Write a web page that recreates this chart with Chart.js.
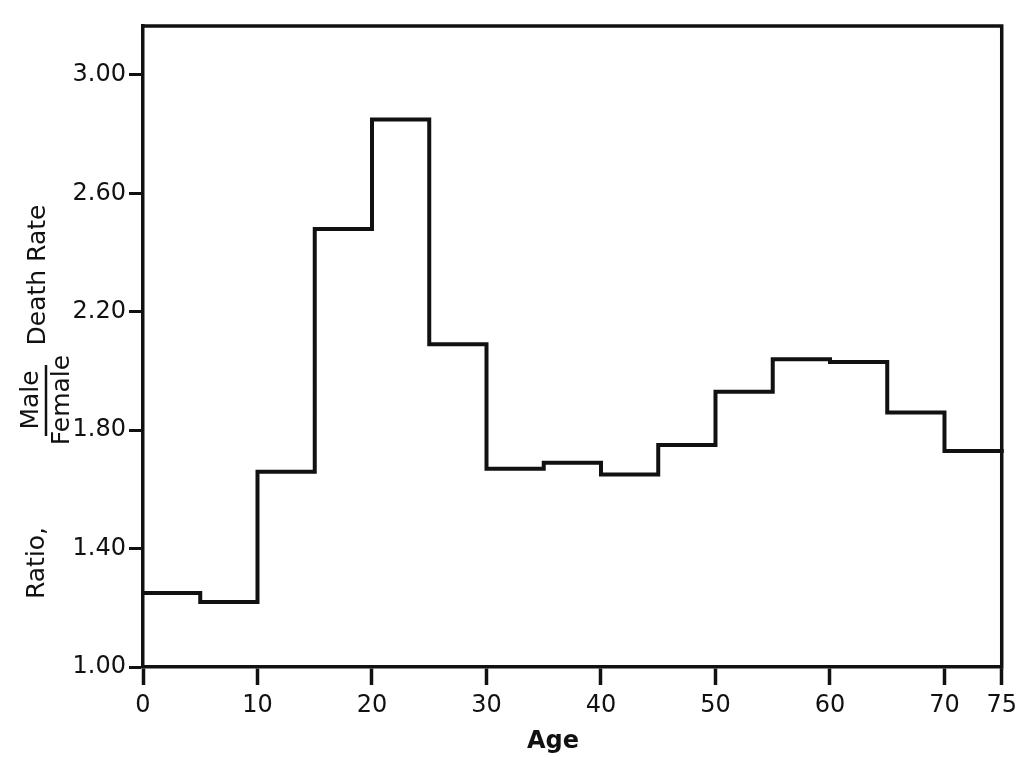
<!DOCTYPE html>
<html>
<head>
<meta charset="utf-8">
<title>Male/Female Death Rate Ratio by Age</title>
<script src="https://cdn.jsdelivr.net/npm/chart.js@4.4.1/dist/chart.umd.min.js"></script>
<style>
  html, body { margin: 0; padding: 0; background: #ffffff; }
  #wrap { width: 1023px; height: 762px; position: relative; }
  canvas { display: block; }
</style>
</head>
<body>
<div id="wrap"><canvas id="c" width="1023" height="762"></canvas></div>
<script>
// Age group boundaries (5-year groups from 0 to 75)
const ageEdges = [0, 5, 10, 15, 20, 25, 30, 35, 40, 45, 50, 55, 60, 65, 70, 75];
// Male / female death-rate ratio for each age group
const ratios = [1.25, 1.22, 1.66, 2.48, 2.85, 2.09, 1.67, 1.69, 1.65, 1.75, 1.93, 2.04, 2.03, 1.86, 1.73];
// Axis tick values
const xTicks = [0, 10, 20, 30, 40, 50, 60, 70, 75];
const yTicks = [1.00, 1.40, 1.80, 2.20, 2.60, 3.00];

// Each age group becomes a flat segment; consecutive segments join vertically.
const stepPoints = [];
ratios.forEach((r, i) => {
  stepPoints.push({ x: ageEdges[i], y: r });
  stepPoints.push({ x: ageEdges[i + 1], y: r });
});

const INK = '#111111';
const FONT = "'DejaVu Sans', sans-serif";

// Top and right edges of the plot frame
const framePlugin = {
  id: 'frame',
  afterDatasetsDraw(chart) {
    const { ctx, chartArea: a } = chart;
    ctx.save();
    ctx.strokeStyle = INK;
    ctx.lineWidth = 3.5;
    ctx.lineCap = 'square';
    ctx.beginPath();
    ctx.moveTo(a.left, a.top);
    ctx.lineTo(a.right, a.top);
    ctx.lineTo(a.right, a.bottom);
    ctx.stroke();
    ctx.restore();
  }
};

// Axis titles: "Age" below, and the rotated "Ratio, Male/Female Death Rate"
const titlePlugin = {
  id: 'titles',
  afterDraw(chart) {
    const { ctx } = chart;
    ctx.save();
    ctx.fillStyle = INK;
    ctx.textAlign = 'center';
    ctx.textBaseline = 'middle';

    ctx.font = "bold 24px " + FONT;
    ctx.fillText('Age', 553, 742);

    const rot = (text, x, y) => {
      ctx.save();
      ctx.translate(x, y);
      ctx.rotate(-Math.PI / 2);
      ctx.fillText(text, 0, 0);
      ctx.restore();
    };
    ctx.font = "25px " + FONT;
    rot('Ratio,', 37, 563);
    rot('Death Rate', 38, 275);
    rot('Male', 31, 400);
    rot('Female', 62, 400);
    // fraction bar
    ctx.strokeStyle = INK;
    ctx.lineWidth = 2.5;
    ctx.beginPath();
    ctx.moveTo(46, 436);
    ctx.lineTo(46, 365);
    ctx.stroke();
    ctx.restore();
  }
};

new Chart(document.getElementById('c'), {
  type: 'line',
  data: {
    datasets: [{
      data: stepPoints,
      borderColor: INK,
      borderWidth: 4,
      pointRadius: 0,
      fill: false,
      tension: 0,
      borderJoinStyle: 'miter',
      borderCapStyle: 'square'
    }]
  },
  options: {
    responsive: false,
    animation: false,
    devicePixelRatio: 1,
    clip: false,
    layout: { padding: { top: 26, right: 19, left: 0, bottom: 0 } },
    plugins: {
      legend: { display: false },
      tooltip: { enabled: false },
      title: { display: false }
    },
    scales: {
      x: {
        type: 'linear',
        min: 0,
        max: 75,
        afterBuildTicks: s => { s.ticks = xTicks.map(v => ({ value: v })); },
        afterFit: s => { s.height = 95; },
        grid: {
          drawOnChartArea: false,
          drawTicks: true,
          tickLength: 18,
          tickWidth: 3.5,
          tickColor: INK
        },
        border: { display: true, color: INK, width: 3.5 },
        ticks: {
          color: INK,
          padding: 6,
          maxRotation: 0,
          autoSkip: false,
          font: { family: FONT, size: 24 },
          callback: v => String(v)
        }
      },
      y: {
        type: 'linear',
        min: 1.0,
        max: 3.1655,
        afterBuildTicks: s => { s.ticks = yTicks.map(v => ({ value: v })); },
        afterFit: s => { s.width = 143; },
        grid: {
          drawOnChartArea: false,
          drawTicks: true,
          tickLength: 14,
          tickWidth: 3,
          tickColor: INK
        },
        border: { display: true, color: INK, width: 3.5 },
        ticks: {
          color: INK,
          padding: 3,
          autoSkip: false,
          font: { family: FONT, size: 24 },
          callback: v => Number(v).toFixed(2)
        }
      }
    }
  },
  plugins: [framePlugin, titlePlugin]
});
</script>
</body>
</html>
